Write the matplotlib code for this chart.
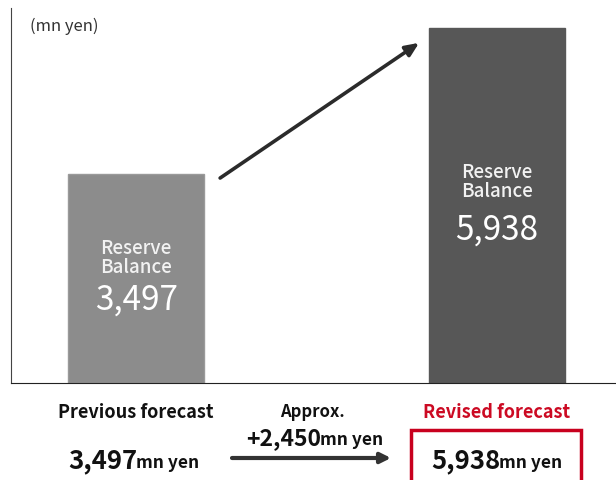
import matplotlib
matplotlib.use("Agg")
import matplotlib.pyplot as plt

plt.rcParams['font.family'] = ['Noto Sans CJK JP', 'DejaVu Sans']

labels = ["Previous forecast", "Revised forecast"]
values = [3497, 5938]
increase_label = "+2,450"
bar_colors = ["#8c8c8c", "#575757"]
W, H = 616, 480


def px(x, y):
    # pixel coords (top-left origin) -> figure fraction
    return x / W, 1 - y / H


fig = plt.figure(figsize=(W / 100, H / 100), dpi=100)
ax = fig.add_axes([11 / W, 1 - 383 / H, (W - 11) / W, (383 - 8) / H])
xs = [0, 1]
ax.bar(xs, values, width=0.377, color=bar_colors, edgecolor=["#9a9a9a", "#575757"], lw=1)
ax.set_xlim(-0.347, 1.331)
ax.set_ylim(0, 6270)
ax.set_xticks([])
ax.set_yticks([])
for s in ["top", "right"]:
    ax.spines[s].set_visible(False)
ax.spines["left"].set_color("#444444")
ax.spines["bottom"].set_color("#222222")

ax.text(0.031, 0.95, "(mn yen)", transform=ax.transAxes, fontsize=12,
        color="#333333", ha="left", va="center")

# labels inside bars (y positions in data units)
label_y = [2090, 3360]
number_y = [1390, 2560]
for x, v, ly, ny in zip(xs, values, label_y, number_y):
    ax.text(x, ly, "Reserve\nBalance", ha="center", va="center", color="#f2f2f2",
            fontsize=13.5, linespacing=1.05, fontweight="medium")
    ax.text(x, ny, f"{v:,}", ha="center", va="center", color="#ffffff", fontsize=24)

# arrow between bars
ax.annotate("", xy=(0.785, values[1] - 250), xytext=(0.233, values[0] - 70),
            arrowprops=dict(arrowstyle="-|>,head_length=0.8,head_width=0.35",
                            color="#2b2b2b", lw=2.6, shrinkA=0, shrinkB=0))

# bottom texts
fig.text(*px(136, 412), labels[0], ha="center", va="center", fontsize=13,
         fontweight="bold", color="#111111")
fig.text(*px(497, 413), labels[1], ha="center", va="center", fontsize=13,
         fontweight="bold", color="#cc0a23")
fig.text(*px(312, 412), "Approx.", ha="center", va="center", fontsize=12,
         fontweight="bold", color="#111111")


def split_text(xsplit, y, big, small, bigsize=18.5):
    fig.text(*px(xsplit, y), big, ha="right", va="baseline", fontsize=bigsize,
             fontweight="bold", color="#111111")
    fig.text(*px(xsplit - 1, y), small, ha="left", va="baseline", fontsize=12.5,
             fontweight="bold", color="#111111")


split_text(137, 468, f"{values[0]:,}", "mn yen")
split_text(321, 445, increase_label, "mn yen", bigsize=16.5)
split_text(500, 468, f"{values[1]:,}", "mn yen")

fig.patches.append(plt.Rectangle(px(411, 481), 170 / W, 51 / H, transform=fig.transFigure,
                                 fill=False, edgecolor="#c8001e", lw=2.5))

ax.annotate("", xy=px(391, 458), xytext=px(232, 458), xycoords="figure fraction",
            textcoords="figure fraction",
            arrowprops=dict(arrowstyle="-|>,head_length=0.6,head_width=0.3",
                            color="#333333", lw=3, shrinkA=0, shrinkB=0),
            annotation_clip=False)

fig.savefig("out.png", dpi=100)
